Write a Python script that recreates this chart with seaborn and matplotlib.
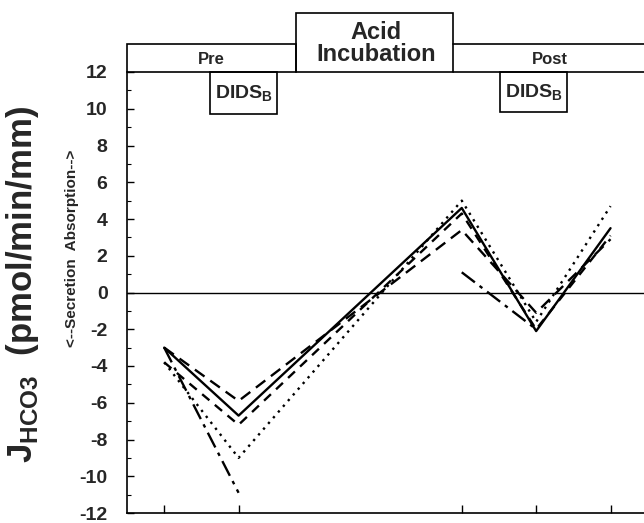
import matplotlib
matplotlib.use("Agg")
import matplotlib.pyplot as plt
import numpy as np
import pandas as pd
import seaborn as sns
from matplotlib.patches import Rectangle

# time points (periods) and flux values
periods = [1, 2, 5, 6, 7]
solid_vals = [-3.0, -6.7, 4.6, -2.1, 3.5]
long_dash_vals = [-3.0, -5.9, 3.4, -1.1, 2.9]
short_dash_vals = [-3.8, -7.2, 4.3, -2.0, 3.1]
dotted_vals = [-3.8, -9.0, 5.0, -1.6, 4.7]
dashdot_pre_x = [1, 2]
dashdot_pre_vals = [-3.0, -10.9]
dashdot_post_x = [5, 6]
dashdot_post_vals = [1.1, -2.0]

y_ticks = list(range(-12, 13, 2))

sns.set_theme(style="ticks")
plt.rcParams["font.family"] = ["Liberation Sans", "DejaVu Sans"]
plt.rcParams["font.weight"] = "bold"
plt.rcParams["mathtext.fontset"] = "custom"
plt.rcParams["mathtext.bf"] = "Liberation Sans:bold"
plt.rcParams["mathtext.rm"] = "Liberation Sans:bold"

fig = plt.figure(figsize=(6.44, 5.23), dpi=100)
ax = fig.add_axes([127 / 644, 1 - 513 / 523, 1 - 127 / 644, (513 - 72) / 523])

series = [
    (periods, solid_vals, "-"),
    (periods, long_dash_vals, (0, (5, 3))),
    (periods, short_dash_vals, (0, (4, 3))),
    (periods, dotted_vals, (0, (1, 2.2))),
    (dashdot_pre_x, dashdot_pre_vals, (0, (7, 2.5, 1.5, 2.5))),
    (dashdot_post_x, dashdot_post_vals, (0, (7, 2.5, 1.5, 2.5))),
]
for xs, ys, ls in series:
    df = pd.DataFrame({"period": xs, "flux": ys})
    sns.lineplot(data=df, x="period", y="flux", ax=ax, color="black",
                 linewidth=1.7, linestyle=ls, sort=False, legend=False)

ax.axhline(0, color="black", linewidth=1.0)

ax.set_xlim(0.5, 7.45)
ax.set_ylim(-12, 12)
ax.set_xticks([1, 2, 5, 6, 7])
ax.set_xticklabels([])
ax.set_yticks(y_ticks)
ax.set_yticks(range(-11, 12, 2), minor=True)
ax.set_yticklabels([str(t) for t in y_ticks], fontsize=14, fontweight="bold")
ax.tick_params(axis="x", direction="in", length=6, width=1.0, color="black")
ax.tick_params(axis="y", which="major", direction="in", length=5, width=1.0,
               color="black", pad=14)
ax.tick_params(axis="y", which="minor", direction="in", length=3, width=0.8,
               color="black")
ax.set_xlabel("")
ax.set_ylabel("")
sns.despine(ax=ax, top=True, right=True)
for s in ["left", "bottom"]:
    ax.spines[s].set_color("black")
    ax.spines[s].set_linewidth(1.2)

# header boxes
box_kw = dict(fill=False, edgecolor="black", linewidth=1.2, clip_on=False)
ax.add_patch(Rectangle((0.5, 12), 2.27, 1.5, **box_kw))
ax.add_patch(Rectangle((2.77, 12), 2.11, 3.2, **box_kw))
ax.plot([4.88, 7.6], [13.5, 13.5], color="black", lw=1.2, clip_on=False)
ax.plot([4.88, 7.6], [12, 12], color="black", lw=1.2, clip_on=False)
ax.add_patch(Rectangle((1.62, 9.7), 0.9, 2.3, **box_kw))
ax.add_patch(Rectangle((5.52, 9.8), 0.89, 2.2, **box_kw))

ax.text(1.63, 12.7, "Pre", ha="center", va="center", fontsize=12, fontweight="bold")
ax.text(6.19, 12.7, "Post", ha="center", va="center", fontsize=12, fontweight="bold")
ax.text(3.85, 13.55, "Acid\nIncubation", ha="center", va="center", fontsize=17,
        fontweight="bold", linespacing=0.95)
ax.text(2.07, 10.8, r"DIDS$_\mathbf{B}$", ha="center", va="center", fontsize=14,
        fontweight="bold")
ax.text(5.965, 10.85, r"DIDS$_\mathbf{B}$", ha="center", va="center", fontsize=14,
        fontweight="bold")

# axis labels
fig.text(23 / 644, 1 - 285 / 523, r"J$_{\mathbf{HCO3}}$  (pmol/min/mm)", rotation=90,
         ha="center", va="center", fontsize=25, fontweight="bold")
fig.text(72 / 644, 1 - 248 / 523, "<--Secretion  Absorption-->", rotation=90,
         ha="center", va="center", fontsize=11, fontweight="bold")

fig.savefig("out.png", dpi=100, facecolor="white")
